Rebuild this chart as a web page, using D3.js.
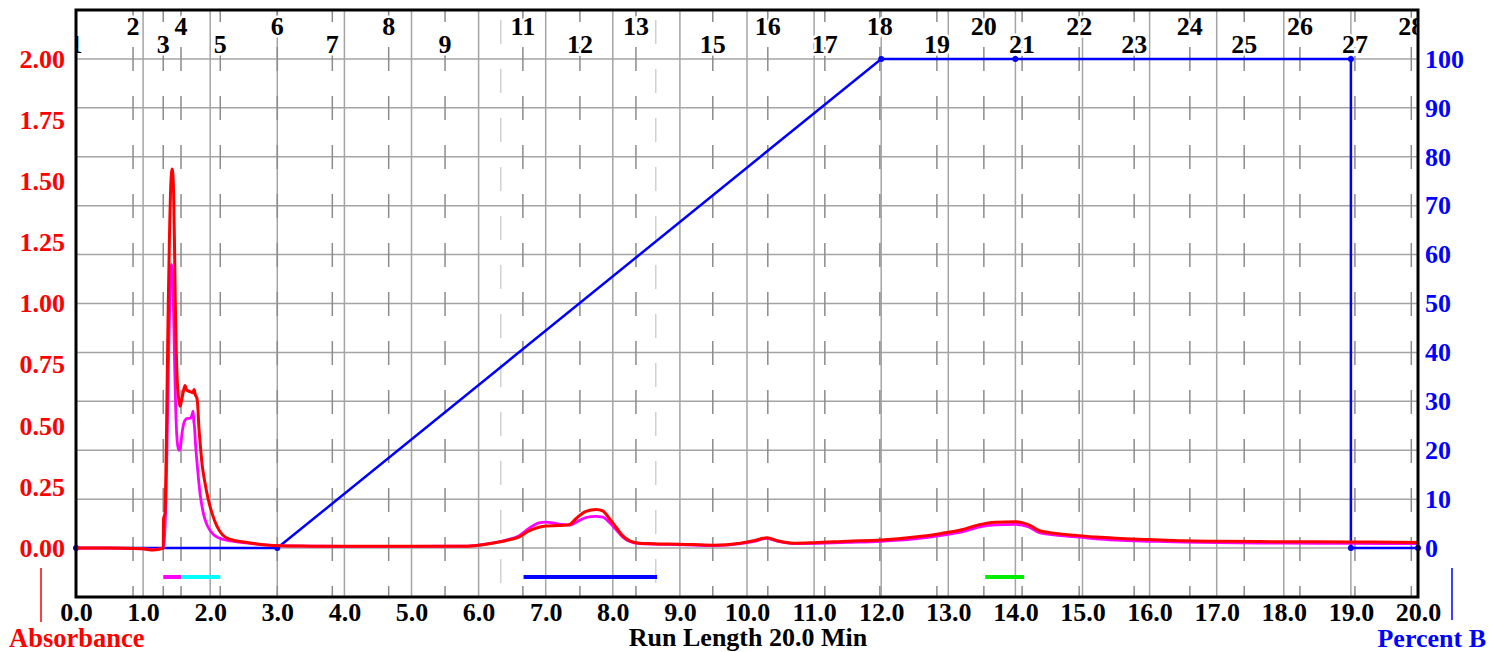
<!DOCTYPE html>
<html><head><meta charset="utf-8">
<script src="https://cdn.jsdelivr.net/npm/d3@7"></script>
<style>
html,body{margin:0;padding:0;background:#fff;overflow:hidden;}
svg text{font-family:"Liberation Serif","Times New Roman",serif;font-weight:bold;}
</style></head><body>
<svg id="chart" width="1489" height="652"></svg>
<script>
// ---- data ----
const timeRed = [0,0.5,1.0,1.15,1.25,1.30,1.305,1.325,1.345,1.36,1.375,1.395,1.415,1.435,1.455,1.47,1.48,1.495,1.51,1.53,1.55,1.57,1.60,1.625,1.65,1.70,1.74,1.76,1.78,1.80,1.815,1.83,1.85,1.88,1.92,1.97,2.03,2.10,2.18,2.30,2.50,2.75,3.0,3.5,4.0,5.0,5.8,6.0,6.2,6.4,6.6,6.75,6.9,7.0,7.2,7.35,7.45,7.6,7.75,7.85,7.95,8.05,8.15,8.25,8.4,8.6,9.0,9.5,9.9,10.1,10.3,10.45,10.7,11.0,11.5,12.0,12.5,12.9,13.2,13.45,13.7,14.0,14.2,14.35,14.6,14.9,15.2,15.5,16.0,16.5,17.0,18.0,19.0,20.0];
const absRed  = [0,0,-0.003,-0.008,-0.004,0.0,0.12,0.14,0.40,0.70,1.00,1.30,1.50,1.55,1.45,1.20,1.00,0.80,0.68,0.61,0.58,0.60,0.64,0.665,0.645,0.64,0.635,0.648,0.625,0.615,0.58,0.50,0.43,0.34,0.27,0.20,0.14,0.09,0.055,0.035,0.025,0.015,0.010,0.008,0.007,0.007,0.008,0.012,0.020,0.030,0.045,0.070,0.085,0.090,0.092,0.095,0.12,0.150,0.158,0.152,0.12,0.085,0.05,0.030,0.020,0.018,0.016,0.012,0.020,0.030,0.042,0.030,0.020,0.022,0.028,0.033,0.045,0.060,0.075,0.095,0.106,0.108,0.095,0.072,0.060,0.052,0.045,0.040,0.035,0.030,0.028,0.026,0.025,0.023];
const timeMag = [0,0.5,1.0,1.15,1.25,1.30,1.32,1.345,1.365,1.385,1.405,1.425,1.44,1.455,1.47,1.485,1.50,1.515,1.535,1.555,1.58,1.62,1.66,1.70,1.73,1.745,1.755,1.765,1.78,1.81,1.85,1.90,1.96,2.05,2.20,2.50,3.0,3.5,4.0,5.0,5.8,6.0,6.2,6.4,6.6,6.75,6.9,7.0,7.2,7.35,7.45,7.6,7.75,7.85,7.95,8.05,8.15,8.25,8.4,8.6,9.0,9.5,9.9,10.1,10.3,10.45,10.7,11.0,11.5,12.0,12.5,12.9,13.2,13.45,13.7,14.0,14.2,14.35,14.6,14.9,15.2,15.5,16.0,16.5,17.0,18.0,19.0,20.0];
const absMag  = [0,0,-0.003,-0.006,-0.003,0.0,0.05,0.25,0.55,0.85,1.08,1.16,1.12,0.95,0.75,0.58,0.47,0.42,0.40,0.41,0.47,0.52,0.53,0.53,0.545,0.56,0.52,0.50,0.43,0.33,0.22,0.14,0.09,0.055,0.035,0.022,0.010,0.008,0.007,0.007,0.008,0.012,0.020,0.032,0.050,0.080,0.103,0.106,0.098,0.094,0.105,0.125,0.130,0.127,0.105,0.075,0.045,0.027,0.018,0.016,0.014,0.010,0.018,0.027,0.040,0.028,0.018,0.019,0.023,0.028,0.038,0.052,0.066,0.086,0.095,0.097,0.086,0.064,0.053,0.046,0.038,0.033,0.028,0.024,0.022,0.020,0.019,0.018];
const gradTime = [0,3,12,14,19,19,20];
const gradB    = [0,0,100,100,100,0,0];
const fracLabels = ["1","2","3","4","5","6","7","8","9","11","12","13","15","16","17","18","19","20","21","22","23","24","25","26","27","28"];
const fracTimes  = [0,0.85,1.30,1.565,2.15,3.0,3.82,4.66,5.50,6.66,7.51,8.345,9.49,10.31,11.16,11.98,12.83,13.53,14.10,14.95,15.77,16.60,17.41,18.24,19.06,19.90];
const eventTimes = [6.33,8.64];
const collStart = [1.30,1.57,6.67,13.55];
const collEnd   = [1.57,2.15,8.66,14.13];
const absTicks  = [0,0.25,0.5,0.75,1.0,1.25,1.5,1.75,2.0];
const bTicks    = [0,10,20,30,40,50,60,70,80,90,100];
const timeTicks = [0,1,2,3,4,5,6,7,8,9,10,11,12,13,14,15,16,17,18,19,20];
const gridB     = [0,10,20,30,40,50,60,70,80,90,100];

// ---- styling / layout ----
const collColors = ["#ff00ff","#00ffff","#0000ff","#00ee00"];
const L=76, R=1418, T=10, B=597;
const svg = d3.select("#chart");
const x = d3.scaleLinear().domain([0,20]).range([L,R]);
const yA = d3.scaleLinear().domain([-0.2,2.2]).range([B,T]);
const yB = d3.scaleLinear().domain([-10,110]).range([B,T]);

svg.append("defs").append("clipPath").attr("id","clip")
  .append("rect").attr("x",L).attr("y",T).attr("width",R-L).attr("height",B-T);

const g = svg.append("g");
g.selectAll("line.hg").data(gridB).join("line").attr("class","hg")
  .attr("x1",L).attr("x2",R).attr("y1",d=>yB(d)).attr("y2",d=>yB(d))
  .attr("stroke","#a4a4a4").attr("stroke-width",1.5);
g.selectAll("line.vg").data(timeTicks.slice(1,-1)).join("line").attr("class","vg")
  .attr("x1",d=>x(d)).attr("x2",d=>x(d)).attr("y1",T).attr("y2",B)
  .attr("stroke","#a4a4a4").attr("stroke-width",1.5);
g.selectAll("line.ev").data(eventTimes).join("line").attr("class","ev")
  .attr("x1",d=>x(d)).attr("x2",d=>x(d)).attr("y1",T).attr("y2",B)
  .attr("stroke","#d0d0d0").attr("stroke-width",1.5)
  .attr("stroke-dasharray","24 25").attr("stroke-dashoffset",-10);
g.selectAll("line.fr").data(fracTimes).join("line").attr("class","fr")
  .attr("x1",d=>x(d)).attr("x2",d=>x(d)).attr("y1",T).attr("y2",B)
  .attr("stroke","#8c8c8c").attr("stroke-width",1.5)
  .attr("stroke-dasharray","24 25").attr("stroke-dashoffset",12)
  .attr("clip-path","url(#clip)");

svg.append("g").attr("clip-path","url(#clip)")
  .selectAll("text").data(fracTimes).join("text")
  .attr("x",d=>x(d)).attr("y",(d,i)=> i%2===0 ? 53 : 35)
  .attr("text-anchor","middle").attr("font-size",26).attr("fill","#000")
  .attr("stroke","#fff").attr("stroke-width",5).attr("paint-order","stroke")
  .text((d,i)=>fracLabels[i]);

svg.selectAll("line.cb").data(collStart).join("line").attr("class","cb")
  .attr("x1",d=>x(d)).attr("x2",(d,i)=>x(collEnd[i])).attr("y1",577).attr("y2",577)
  .attr("stroke",(d,i)=>collColors[i]).attr("stroke-width",4);

const gradPts = gradTime.map((t,i)=>[t,gradB[i]]);
svg.append("path").datum(gradPts)
  .attr("d",d3.line().x(d=>x(d[0])).y(d=>yB(d[1])))
  .attr("fill","none").attr("stroke","#0000ff").attr("stroke-width",2.5);
svg.selectAll("circle.gp").data(gradPts).join("circle").attr("class","gp")
  .attr("cx",d=>x(d[0])).attr("cy",d=>yB(d[1])).attr("r",3).attr("fill","#0000ff");

const magPts = timeMag.map((t,i)=>[t,absMag[i]]);
const redPts = timeRed.map((t,i)=>[t,absRed[i]]);
const line = d3.line().x(d=>x(d[0])).y(d=>yA(d[1])).curve(d3.curveMonotoneX);
svg.append("path").datum(magPts).attr("d",line)
  .attr("fill","none").attr("stroke","#ff00ff").attr("stroke-width",2.8).attr("stroke-linejoin","round");
svg.append("path").datum(redPts).attr("d",line)
  .attr("fill","none").attr("stroke","#ff0000").attr("stroke-width",3).attr("stroke-linejoin","round");

svg.append("rect").attr("x",L).attr("y",T).attr("width",R-L).attr("height",B-T)
  .attr("fill","none").attr("stroke","#000").attr("stroke-width",3);

const axL = svg.append("g").attr("transform",`translate(${L},0)`)
  .call(d3.axisLeft(yA).tickValues(absTicks).tickFormat(d3.format(".2f")).tickSize(0).tickPadding(11));
const axR = svg.append("g").attr("transform",`translate(${R},0)`)
  .call(d3.axisRight(yB).tickValues(bTicks).tickFormat(d3.format("d")).tickSize(0).tickPadding(7));
const axBt = svg.append("g").attr("transform",`translate(0,${B})`)
  .call(d3.axisBottom(x).tickValues(timeTicks).tickFormat(d3.format(".1f")).tickSize(0).tickPadding(8));
[axL,axR,axBt].forEach(a=>{a.select(".domain").remove(); a.selectAll("text").attr("font-size",26).attr("font-family",null);});
axL.selectAll("text").attr("fill","#ff0000");
axR.selectAll("text").attr("fill","#0000ff");
axBt.selectAll("text").attr("fill","#000").attr("dy",null).attr("y",24);

svg.append("text").attr("x",748).attr("y",646).attr("text-anchor","middle")
  .attr("font-size",26).attr("fill","#000").text("Run Length 20.0 Min");
svg.append("text").attr("x",9).attr("y",647).attr("font-size",26.5).attr("fill","#ff0000").text("Absorbance");
svg.append("text").attr("x",1486).attr("y",647).attr("text-anchor","end").attr("font-size",26).attr("fill","#0000ff").text("Percent B");
svg.append("line").attr("x1",41).attr("x2",41).attr("y1",568).attr("y2",622).attr("stroke","#ff0000").attr("stroke-width",1.5);
svg.append("line").attr("x1",1452).attr("x2",1452).attr("y1",568).attr("y2",620).attr("stroke","#0000ff").attr("stroke-width",1.5);
</script>
</body></html>
